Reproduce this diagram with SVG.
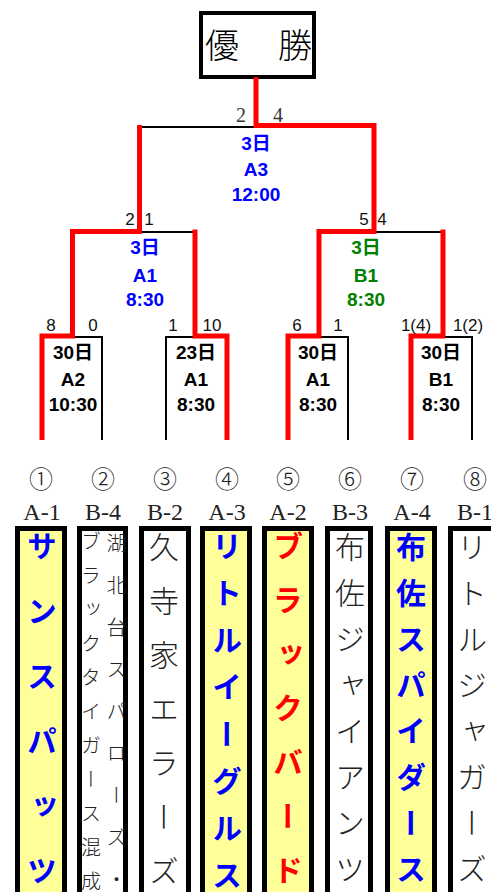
<svg xmlns="http://www.w3.org/2000/svg" width="491" height="892" viewBox="0 0 491 892">
<style>
.blk{fill:none;stroke:#000;stroke-width:2}
.red{fill:none;stroke:#f00;stroke-width:5;stroke-linejoin:miter}
.info{font-family:"Liberation Sans","Noto Sans CJK JP",sans-serif;font-weight:bold;font-size:19px;text-anchor:middle}
.sc{font-family:"Liberation Sans","Noto Sans CJK JP",sans-serif;font-size:17px;fill:#111;text-anchor:middle}
.scs{font-family:"Liberation Serif","Noto Sans CJK JP",serif;font-size:20px;fill:#333;text-anchor:middle}
.num{font-family:"Noto Sans CJK JP",sans-serif;font-weight:300;font-size:24px;fill:#222;text-anchor:middle}
.grp{font-family:"Liberation Serif","Noto Sans CJK JP",serif;font-size:24px;fill:#222;text-anchor:middle}
.box{stroke:#000;stroke-width:5}
.y{fill:#ffff99}
.w{fill:#fff}
.vt{font-family:"Noto Sans CJK JP",sans-serif;writing-mode:vertical-rl;font-size:30px}
.vs{font-size:20px}
.vb{font-weight:bold}
.vn{font-weight:300;fill:#222}
</style>
<g id="winner">
<rect x="201" y="13" width="113" height="64" fill="#fff" stroke="#000" stroke-width="4"/>
<text x="222" y="58" font-family="Noto Sans CJK JP,sans-serif" font-weight="300" font-size="34" text-anchor="middle">優</text>
<text x="295" y="58" font-family="Noto Sans CJK JP,sans-serif" font-weight="300" font-size="34" text-anchor="middle">勝</text>
</g>
<g id="connectors">
<path class="blk" d="M139.5 127H256"/>
<path class="blk" d="M139.5 232H195"/>
<path class="blk" d="M374 232H443"/>
<path class="blk" d="M72 337H102V440"/>
<path class="blk" d="M195 337H166V440"/>
<path class="blk" d="M319 337H348V440"/>
<path class="blk" d="M444 337H472V440"/>
<path class="red" d="M256 77V125.5H374V231.5H319V336H288V440"/>
<path class="red" d="M139.5 125V231.5H72.5V336H42V440"/>
<path class="red" d="M195 229.5V336H227V440"/>
<path class="red" d="M443 229.5V336H411V440"/>
</g>
<g id="scores">
<text class="scs" x="241" y="122">2</text>
<text class="scs" x="278" y="122">4</text>
<text class="sc" x="130" y="225">2</text>
<text class="sc" x="149" y="225">1</text>
<text class="sc" x="364" y="225">5</text>
<text class="sc" x="382" y="225">4</text>
<text class="sc" x="51" y="331">8</text>
<text class="sc" x="93" y="331">0</text>
<text class="sc" x="173" y="331">1</text>
<text class="sc" x="212" y="331">10</text>
<text class="sc" x="297" y="331">6</text>
<text class="sc" x="338" y="331">1</text>
<text class="sc" x="416" y="331">1(4)</text>
<text class="sc" x="468" y="331">1(2)</text>
</g>
<g id="final-info" class="info" fill="#00f">
<text x="256" y="150">3日</text><text x="256" y="176">A3</text><text x="256" y="201">12:00</text>
</g>
<g id="semi1-info" class="info" fill="#00f">
<text x="145" y="254">3日</text><text x="145" y="282">A1</text><text x="145" y="306">8:30</text>
</g>
<g id="semi2-info" class="info" fill="#008000">
<text x="366" y="254">3日</text><text x="366" y="282">B1</text><text x="366" y="306">8:30</text>
</g>
<g id="q1-info" class="info" fill="#000">
<text x="73" y="359">30日</text><text x="73" y="386">A2</text><text x="73" y="411">10:30</text>
</g>
<g id="q2-info" class="info" fill="#000">
<text x="196" y="359">23日</text><text x="196" y="386">A1</text><text x="196" y="411">8:30</text>
</g>
<g id="q3-info" class="info" fill="#000">
<text x="318" y="359">30日</text><text x="318" y="386">A1</text><text x="318" y="411">8:30</text>
</g>
<g id="q4-info" class="info" fill="#000">
<text x="441" y="359">30日</text><text x="441" y="386">B1</text><text x="441" y="411">8:30</text>
</g>
<g id="team1">
<text class="num" x="41" y="488">①</text><text class="grp" x="42" y="520">A-1</text>
<rect class="box y" x="17.5" y="528.5" width="47" height="380"/>
<text class="vt vb" x="42" y="531" fill="#00f"><tspan letter-spacing="35">サンスパッ</tspan>ツ</text>
</g>
<g id="team2">
<text class="num" x="103" y="488">②</text><text class="grp" x="103" y="520">B-4</text>
<rect class="box w" x="79.5" y="528.5" width="46" height="380"/>
<text class="vt vn vs" x="116.5" y="533"><tspan letter-spacing="22">湖北台スパローズ</tspan>・</text>
<text class="vt vn vs" x="91" y="531"><tspan letter-spacing="14">ブラックタイガース混</tspan>成</text>
</g>
<g id="team3">
<text class="num" x="165" y="488">③</text><text class="grp" x="165" y="520">B-2</text>
<rect class="box w" x="141.5" y="528.5" width="47" height="380"/>
<text class="vt vn" x="164" y="532"><tspan letter-spacing="24">久寺家エラー</tspan>ズ</text>
</g>
<g id="team4">
<text class="num" x="227" y="488">④</text><text class="grp" x="227" y="520">A-3</text>
<rect class="box y" x="202.5" y="528.5" width="47" height="380"/>
<text class="vt vb" x="227" y="531" fill="#00f"><tspan letter-spacing="17">リトルイーグル</tspan>ス</text>
</g>
<g id="team5">
<text class="num" x="288" y="488">⑤</text><text class="grp" x="288" y="520">A-2</text>
<rect class="box y" x="264.5" y="528.5" width="47" height="380"/>
<text class="vt vb" x="288" y="531" fill="#f00"><tspan letter-spacing="24">ブラックバー</tspan>ド</text>
</g>
<g id="team6">
<text class="num" x="350" y="488">⑥</text><text class="grp" x="350" y="520">B-3</text>
<rect class="box w" x="327.5" y="528.5" width="43" height="380"/>
<text class="vt vn" x="350" y="532"><tspan letter-spacing="16">布佐ジャイアン</tspan>ツ</text>
</g>
<g id="team7">
<text class="num" x="412" y="488">⑦</text><text class="grp" x="412" y="520">A-4</text>
<rect class="box y" x="387.5" y="528.5" width="47" height="380"/>
<text class="vt vb" x="411" y="532" fill="#00f"><tspan letter-spacing="16">布佐スパイダー</tspan>ス</text>
</g>
<g id="team8">
<text class="num" x="475" y="488">⑧</text><text class="grp" x="475" y="520">B-1</text>
<rect class="box w" x="450.5" y="528.5" width="47" height="380"/>
<text class="vt vn" x="472" y="532"><tspan letter-spacing="16">リトルジャガー</tspan>ズ</text>
</g>
</svg>
